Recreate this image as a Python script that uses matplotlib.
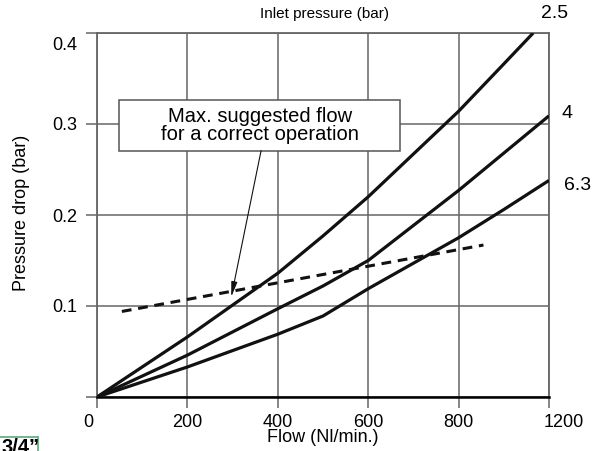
import numpy as np
import matplotlib
matplotlib.use("Agg")
import matplotlib.pyplot as plt
from matplotlib.patches import Rectangle
from matplotlib.transforms import ScaledTranslation

plt.rcParams['font.family'] = ['Liberation Sans', 'DejaVu Sans']

# ---- data ----
flow_25 = [0, 200, 400, 500, 600, 700, 800, 1000, 1130]
drop_25 = [0, 0.066, 0.136, 0.177, 0.220, 0.267, 0.314, 0.366, 0.400]

flow_4 = [0, 200, 400, 500, 600, 800, 1000, 1200]
drop_4 = [0, 0.046, 0.097, 0.122, 0.150, 0.227, 0.268, 0.309]

flow_63 = [0, 200, 400, 500, 600, 800, 1000, 1200]
drop_63 = [0, 0.033, 0.069, 0.089, 0.119, 0.175, 0.206, 0.238]

flow_max = [55, 800, 910]
drop_max = [0.094, 0.162, 0.167]

x_ticks = [0, 200, 400, 600, 800, 1200]
x_labels = ['0', '200', '400', '600', '800', '1200']
y_ticks = [0, 0.1, 0.2, 0.3, 0.4]
y_labels = ['', '0.1', '0.2', '0.3', '0.4']
curve_names = ['2.5', '4', '6.3']

W, H = 595, 451
fig = plt.figure(figsize=(W / 100, H / 100), dpi=100)
L, R, T, B = 97, 549, 33, 397
ax = fig.add_axes([L / W, 1 - B / H, (R - L) / W, (B - T) / H])

def fwd(x):
    x = np.asarray(x, dtype=float)
    return np.where(x <= 800, x, 800 + (x - 800) / 2.0)

def inv(y):
    y = np.asarray(y, dtype=float)
    return np.where(y <= 800, y, 800 + (y - 800) * 2.0)

ax.set_xscale('function', functions=(fwd, inv))
ax.set_xlim(0, 1200)
ax.set_ylim(0, 0.4)

grid_c = '#666666'
ax.set_xticks(x_ticks)
ax.set_xticklabels(x_labels)
ax.set_yticks(y_ticks)
ax.set_yticklabels(y_labels)
ax.grid(True, color=grid_c, lw=1.1)
ax.set_axisbelow(True)
ax.tick_params(axis='both', length=8, width=1.1, color=grid_c, labelsize=13,
               direction='out')
ax.tick_params(axis='x', pad=4)
ax.tick_params(axis='y', pad=6)

for s in ['top', 'right', 'left']:
    ax.spines[s].set_color(grid_c)
    ax.spines[s].set_linewidth(1.3)
ax.spines['bottom'].set_color('black')
ax.spines['bottom'].set_linewidth(1.8)

# tick label nudges
xl = ax.get_xticklabels()
xl[0].set_transform(xl[0].get_transform() + ScaledTranslation(-0.09, 0, fig.dpi_scale_trans))
xl[-1].set_transform(xl[-1].get_transform() + ScaledTranslation(0.15, 0, fig.dpi_scale_trans))
yl = ax.get_yticklabels()
yl[-1].set_transform(yl[-1].get_transform() + ScaledTranslation(0, -0.11, fig.dpi_scale_trans))

lw = 2.3
ax.plot(flow_25, drop_25, color='#111111', lw=lw, solid_capstyle='butt', zorder=3)
ax.plot(flow_4, drop_4, color='#111111', lw=lw, solid_capstyle='butt', zorder=3)
ax.plot(flow_63, drop_63, color='#111111', lw=lw, solid_capstyle='butt', zorder=3)
ax.plot(flow_max, drop_max, color='#111111', lw=2.2, ls=(0, (3.2, 2.2)), zorder=3)

# annotation box
ax.add_patch(Rectangle((49, 0.2707), 671 - 49, 0.3267 - 0.2707, facecolor='white',
                       edgecolor='#555555', lw=1.1, zorder=4))
ax.text(360, 0.2985, 'Max. suggested flow\nfor a correct operation', ha='center',
        va='center', fontsize=14.5, linespacing=0.95, zorder=5)
ax.annotate('', xy=(297, 0.110), xytext=(363, 0.2707),
            arrowprops=dict(arrowstyle='-|>,head_length=0.9,head_width=0.18',
                            color='#111111', lw=0.8, shrinkA=0, shrinkB=0),
            zorder=5)

# texts
fig.text(324 / W, 1 - 14 / H, 'Inlet pressure (bar)', ha='center', va='center', fontsize=11)
fig.text(323 / W, 1 - 438 / H, 'Flow (Nl/min.)', ha='center', va='center', fontsize=13)
fig.text(22 / W, 1 - 213 / H, 'Pressure drop (bar)', ha='center', va='center',
         rotation=90, fontsize=13)
for name, (px, py) in zip(curve_names, [(555, 14), (567, 113), (578, 185)]):
    fig.text(px / W, 1 - py / H, name, ha='center', va='center', fontsize=14)

# cropped label box at bottom-left
fig.add_artist(Rectangle((-0.02, -0.05), (38 / W) + 0.02, (451 - 437) / H + 0.05,
                         transform=fig.transFigure, facecolor='white',
                         edgecolor='#5aaa7a', lw=1.2, zorder=1))
fig.text(1 / W, -2 / H, '3/4\u201d', ha='left', va='baseline', fontsize=14.5,
         fontweight='bold', zorder=2)

fig.savefig('out.png', dpi=100)
